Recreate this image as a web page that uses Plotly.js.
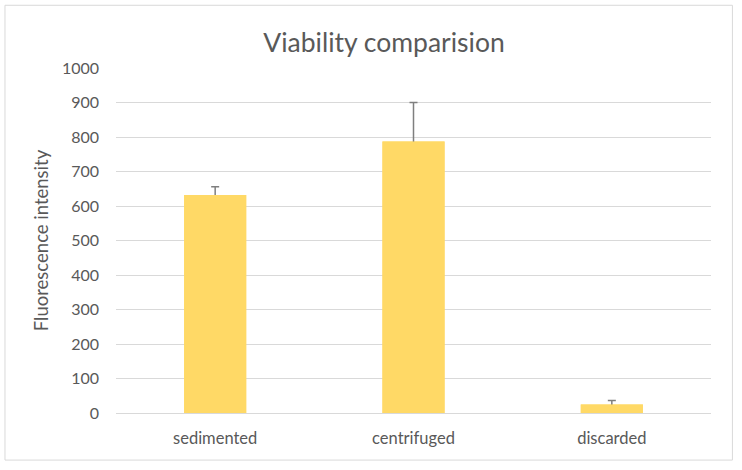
<!DOCTYPE html>
<html>
<head>
<meta charset="utf-8">
<script src="https://cdn.plot.ly/plotly-3.0.1.min.js"></script>
<style>html,body{margin:0;padding:0;background:#fff;}#chart{width:742px;height:470px;}</style>
</head>
<body>
<div id="chart"></div>
<script>
const categories = ["sedimented", "centrifuged", "discarded"];
const values = [632, 787, 25];
const errorsPlus = [24, 113, 11];
const yTicks = [0, 100, 200, 300, 400, 500, 600, 700, 800, 900, 1000];

const textColor = "#595959";
const fontFamily = "Lato, 'Open Sans', sans-serif";
const barColor = "#FFD966";

// Bars with error bars (drawn first)
const traceErr = {
  type: "bar",
  x: categories,
  y: values,
  marker: {color: barColor},
  error_y: {
    type: "data",
    symmetric: true,
    array: errorsPlus,
    color: "#7F7F7F",
    thickness: 1.5,
    width: 4
  },
  hoverinfo: "none"
};
// Same bars drawn on top so only the "plus" part of each error bar shows
const traceCover = {
  type: "bar",
  x: categories,
  y: values,
  marker: {color: barColor},
  hoverinfo: "none"
};

const layout = {
  width: 742,
  height: 470,
  margin: {l: 116, r: 31, t: 68, b: 57},
  paper_bgcolor: "#fff",
  plot_bgcolor: "#fff",
  barmode: "overlay",
  bargap: 0.687,
  showlegend: false,
  font: {family: fontFamily, color: textColor, size: 16},
  title: {
    text: "Viability comparision",
    font: {family: fontFamily, size: 26.5, color: textColor},
    xref: "container",
    x: 0.5175,
    xanchor: "center",
    y: 0.91,
    yanchor: "middle"
  },
  xaxis: {
    showgrid: false,
    showline: true,
    linecolor: "#D9D9D9",
    linewidth: 1,
    ticks: "",
    ticklabelstandoff: 10,
    tickfont: {size: 16.5, color: textColor, family: fontFamily},
    fixedrange: true
  },
  yaxis: {
    range: [0, 1000],
    tickvals: yTicks,
    ticktext: yTicks.map(String),
    showgrid: true,
    gridcolor: "#D9D9D9",
    gridwidth: 1,
    zeroline: false,
    showline: false,
    ticks: "",
    ticklabelstandoff: 16,
    tickfont: {size: 16, color: textColor, family: fontFamily},
    title: {
      text: "Fluorescence intensity",
      font: {size: 18.5, color: textColor, family: fontFamily},
      standoff: 8
    },
    fixedrange: true
  },
  shapes: [{
    type: "rect",
    xref: "paper", yref: "paper",
    x0: -0.1866, x1: 1.036, y0: -0.1365, y1: 1.1818,
    line: {color: "#D9D9D9", width: 1},
    fillcolor: "rgba(0,0,0,0)",
    layer: "below"
  }]
};

Plotly.newPlot("chart", [traceErr, traceCover], layout, {displayModeBar: false, staticPlot: true});
</script>
</body>
</html>
